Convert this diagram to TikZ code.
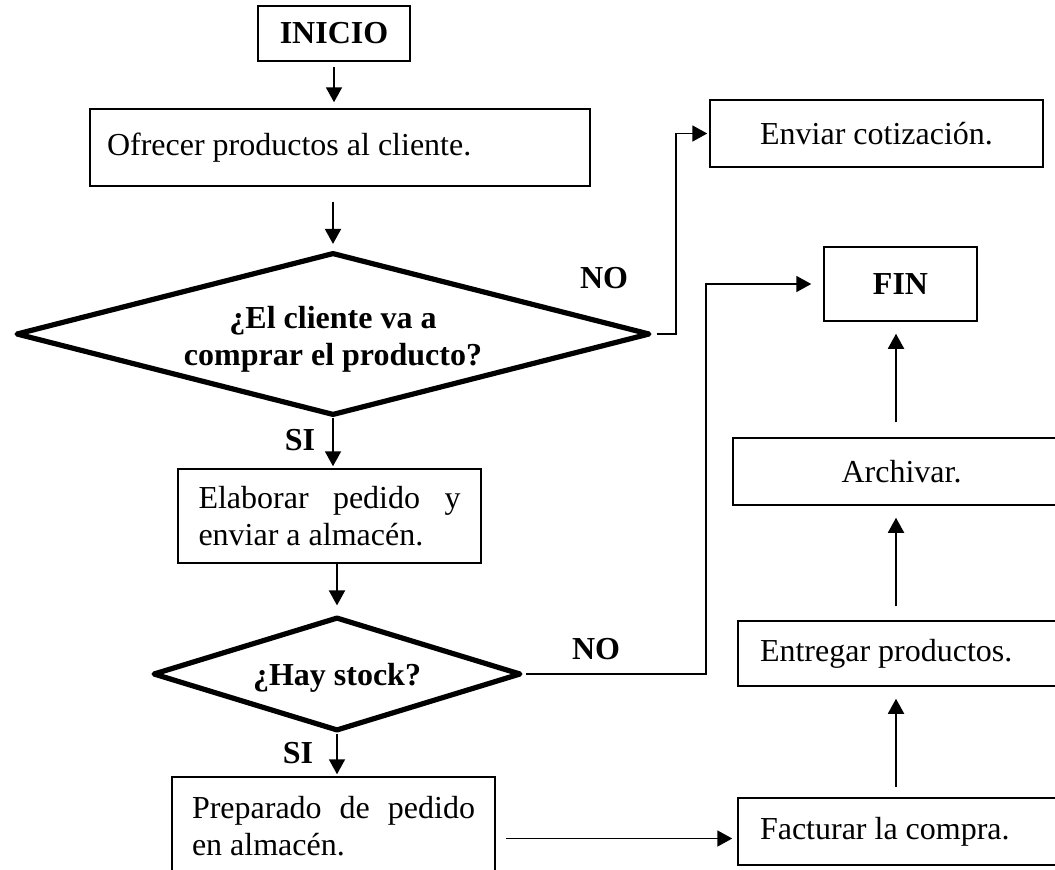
\documentclass[tikz,border=0pt]{standalone}
\usepackage{fontspec}
\setmainfont{Liberation Serif}
\usetikzlibrary{shapes.geometric,arrows.meta,calc}

\begin{document}
\begin{tikzpicture}[x=0.5pt,y=-0.5pt,
  every node/.style={font=\fontsize{16}{18.5}\selectfont},
  box/.style={draw, line width=0.75pt, rectangle, inner sep=0pt},
  boldbox/.style={box, font=\fontsize{16}{18.5}\selectfont\bfseries},
  decision/.style={draw, line width=2.6pt, diamond, inner sep=0pt, line join=round},
  qtext/.style={font=\fontsize{16}{18.5}\selectfont\bfseries, align=center},
  tag/.style={font=\fontsize{16}{18.5}\selectfont\bfseries},
  arr/.style={line width=0.95pt, -{Triangle[length=7.5pt,width=8pt]}}
]
\clip (0,0) rectangle (1055,869);
\fill[white] (0,0) rectangle (1055,869);

% main column
\node[boldbox, minimum width=76pt, minimum height=27.5pt] (inicio) at (334,33.5) {INICIO};
\node[box, minimum width=250pt, minimum height=38.5pt, text width=233pt, align=flush left] (ofrecer) at (340,147.5) {Ofrecer productos al cliente.};
\node[decision, minimum width=317pt, minimum height=81.5pt] (d1) at (333,334) {};
\node[qtext] (d1q) at ($(d1)+(0,5)$) {¿El cliente va a\\comprar el producto?};
\node[box, minimum width=151.5pt, minimum height=47pt, text width=131pt, align=flush left] (elaborar) at (329.5,516) {\makebox[131pt][s]{Elaborar pedido y}\\enviar a almacén.};
\node[decision, minimum width=184pt, minimum height=57pt] (d2) at (337,674) {};
\node[qtext] (d2q) at ($(d2)+(0,4)$) {¿Hay stock?};
\node[box, minimum width=161.5pt, minimum height=49pt, text width=141.5pt, align=flush left] (preparado) at (333.5,826) {\makebox[141.5pt][s]{Preparado de pedido}\\en almacén.};

% right column
\node[box, minimum width=166.5pt, minimum height=33.5pt] (enviar) at (876.5,133.5) {Enviar cotización.};
\node[boldbox, minimum width=76.5pt, minimum height=37pt] (fin) at (900.5,284) {FIN};
\node[box, minimum width=168.5pt, minimum height=33.5pt] (archivar) at (901.5,471.5) {Archivar.};
\node[box, minimum width=166pt, minimum height=32.5pt, text width=144pt, align=flush left] (entregar) at (904,653.5) {Entregar productos.};
\node[box, minimum width=166pt, minimum height=33.5pt, text width=144pt, align=flush left] (facturar) at (904,831.5) {Facturar la compra.};

% branch labels
\node[tag] (no1) at (604,278) {NO};
\node[tag] (si1) at (300,440) {SI};
\node[tag] (no2) at (596,649) {NO};
\node[tag] (si2) at (298,753) {SI};

% connectors
\draw[arr, shorten <=2.5pt, shorten >=3pt] (inicio.south) -- (inicio.south |- ofrecer.north);
\draw[arr, shorten <=7.5pt, shorten >=3pt] (d1.north |- ofrecer.south) -- (d1.north);
\draw[arr, shorten <=2pt, shorten >=1pt] (d1.east) -| ($(enviar.west)+(-33,0)$) -- (enviar.west);
\draw[arr, shorten >=1pt] (d1.south) -- (d1.south |- elaborar.north);
\draw[arr, shorten >=4.5pt] (d2.north |- elaborar.south) -- (d2.north);
\draw[arr, shorten <=1pt, shorten >=6pt] (d2.east) -| ($(fin.west)+(-117,0)$) -- (fin.west);
\draw[arr, shorten >=1pt] (d2.south) -- (d2.south |- preparado.north);
\draw[arr, shorten <=5pt, shorten >=2.5pt] ($(facturar.west -| preparado.east)+(0,7)$) -- ($(facturar.west)+(0,7)$);

\coordinate (col) at ($(fin.south)+(-4.5,0)$);
\draw[arr, shorten <=5pt, shorten >=6pt] (col |- facturar.north) -- (col |- entregar.south);
\draw[arr, shorten <=7pt, shorten >=6pt] (col |- entregar.north) -- (col |- archivar.south);
\draw[arr, shorten <=7.5pt, shorten >=6pt] (col |- archivar.north) -- (col |- fin.south);
\end{tikzpicture}
\end{document}
